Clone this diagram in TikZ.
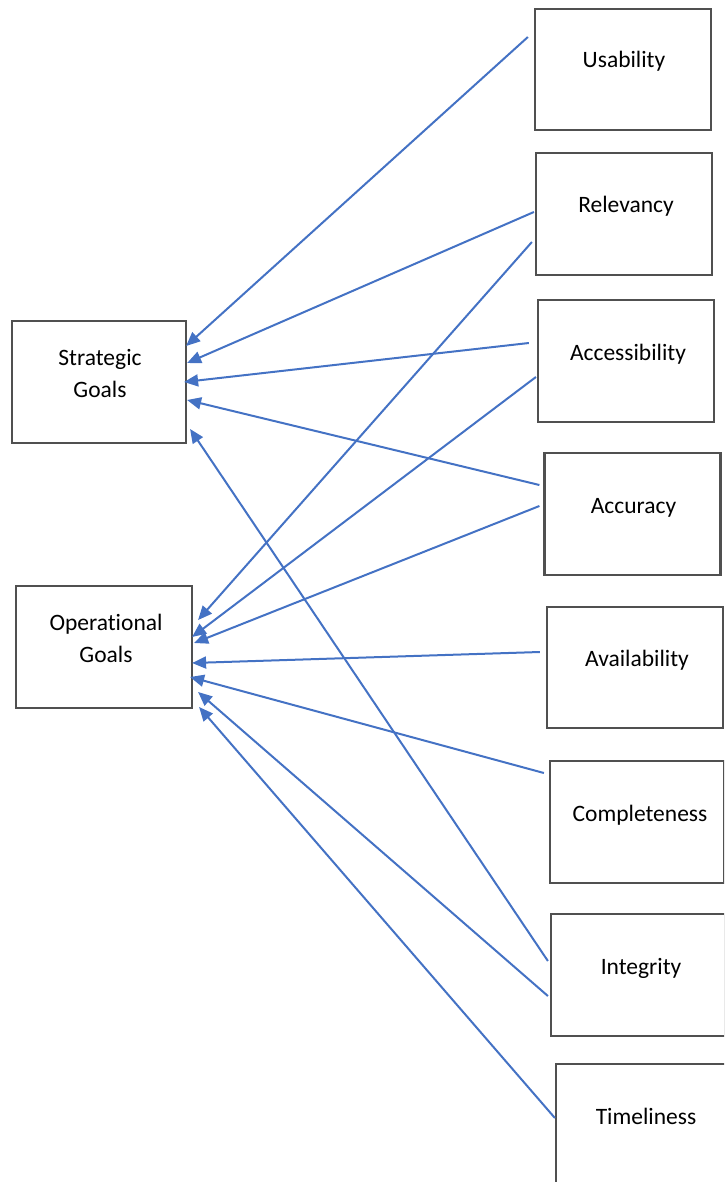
\documentclass[tikz,border=0pt]{standalone}
\usepackage{fontspec}
\setmainfont{Carlito}[Ligatures={NoCommon}]
\usetikzlibrary{calc,arrows.meta}
\definecolor{boxgray}{HTML}{505050}
\definecolor{arrowblue}{HTML}{4472C4}
\begin{document}
\begin{tikzpicture}[x=1pt,y=-1pt,
  box/.style={draw=boxgray,line width=2.2pt,minimum width=#1,minimum height=122pt,inner sep=0pt,fill=white},
  box/.default=176pt,
  lbl/.style={font=\fontsize{23.5}{32}\selectfont,text=black,align=center,inner sep=0pt},
  link/.style={draw=arrowblue,line width=2pt,-{Triangle[length=14pt,width=12pt]}}]
\useasboundingbox (0,0) rectangle (724,1182);
\begin{scope}
\clip (0,0) rectangle (724,1182);
% goal boxes
\node[box=174pt] (sg) at (99,382) {};
\node[box] (og) at (104,647) {};
% dimension boxes
\node[box,minimum height=121pt] (usab) at (623,69.5) {};
\node[box] (relev) at (624,214) {};
\node[box] (access) at (626,361) {};
\node[box] (accur) at (632.5,514) {};
\node[box,minimum height=121pt] (avail) at (635,667.5) {};
\node[box,minimum width=174pt] (compl) at (637,822) {};
\node[box,minimum width=174pt] (integ) at (638,975) {};
\node[box] (timel) at (644,1125) {};
\end{scope}
% labels
\node[lbl] (sgt) at ($(sg.center)+(1,-9)$) {Strategic\\Goals};
\node[lbl] (ogt) at ($(og.center)+(2,-9)$) {Operational\\Goals};
\node[lbl,anchor=base] (usabt) at ($(usab.center)+(1,-1.5)$) {Usability};
\node[lbl,anchor=base] (relevt) at ($(relev.center)+(2,-1)$) {Relevancy};
\node[lbl,anchor=base] (accesst) at ($(access.center)+(2,-1)$) {Accessibility};
\node[lbl,anchor=base] (accurt) at ($(accur.center)+(1,-1)$) {Accuracy};
\node[lbl,anchor=base] (availt) at ($(avail.center)+(2,-1)$) {Availability};
\node[lbl,anchor=base] (complt) at ($(compl.center)+(3,-1)$) {Completeness};
\node[lbl,anchor=base] (integt) at ($(integ.center)+(3,-1)$) {Integrity};
\node[lbl,anchor=base] (timelt) at ($(timel.center)+(2,-1)$) {Timeliness};
% connectors
\draw[link] ($(usab.west)+(-6,-32.5)$) -- ($(sg.east)+(-1,-36)$);
\draw[link] ($(relev.west)+(-1,-2)$) -- ($(sg.east)+(0,-19)$);
\draw[link] ($(relev.west)+(-3,28)$) -- ($(og.east)+(5,-27)$);
\draw[link] ($(access.west)+(-8,-18)$) -- ($(sg.east)+(-3,0)$);
\draw[link] ($(access.west)+(-1,16)$) -- ($(og.east)+(-1,-10)$);
\draw[link] ($(accur.west)+(-4,-29)$) -- ($(sg.east)+(0,18)$);
\draw[link] ($(accur.west)+(-4,-8)$) -- ($(og.east)+(1,-4)$);
\draw[link] ($(avail.west)+(-6,-15.5)$) -- ($(og.east)+(-1,16)$);
\draw[link] ($(compl.west)+(-5,-49)$) -- ($(og.east)+(-3,30)$);
\draw[link] ($(integ.west)+(-2,-14)$) -- ($(sg.east)+(3,47)$);
\draw[link] ($(integ.west)+(-2,21)$) -- ($(og.east)+(5,45)$);
\draw[link] ($(timel.west)+(0,-7)$) -- ($(og.east)+(6,60)$);
\end{tikzpicture}
\end{document}
